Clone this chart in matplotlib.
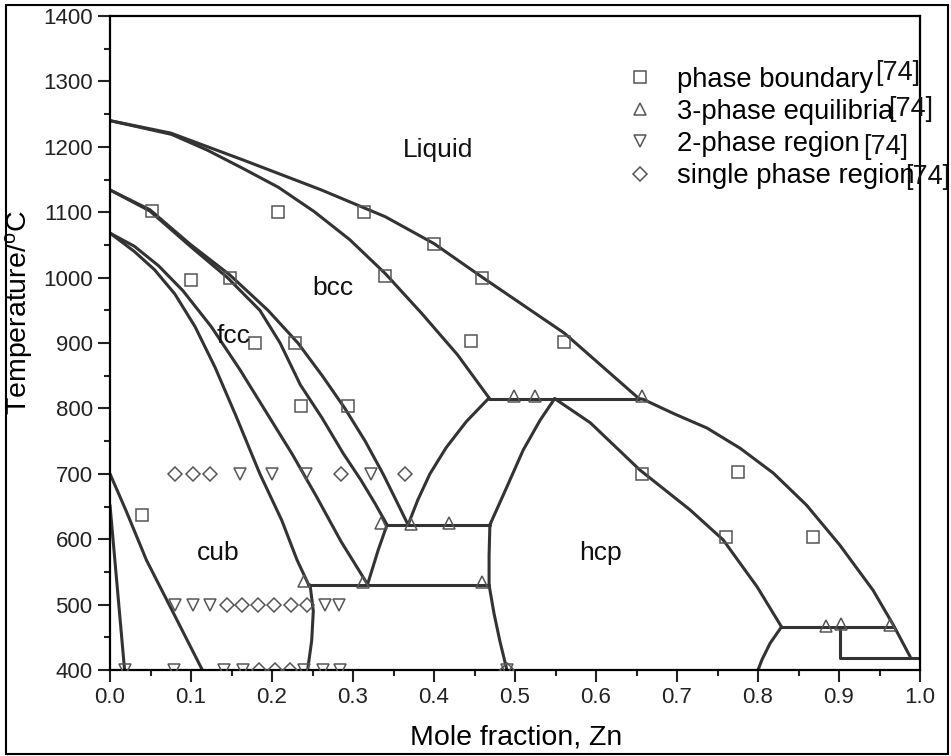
import numpy as np
import matplotlib
matplotlib.use('Agg')
import matplotlib.pyplot as plt
from matplotlib.patches import Rectangle

plt.rcParams['font.family'] = ['Liberation Sans', 'DejaVu Sans']
plt.rcParams['mathtext.fontset'] = 'custom'
plt.rcParams['mathtext.rm'] = 'Liberation Sans'
plt.rcParams['mathtext.it'] = 'Liberation Sans'

# calculated phase boundaries: mole fraction Zn / temperature (C)
liq_x = [0, 0.075, 0.164, 0.261, 0.340, 0.400, 0.459, 0.561, 0.653, 0.658,
         0.696, 0.737, 0.778, 0.819, 0.860, 0.901, 0.942, 0.967, 0.988]
liq_t = [1240, 1221, 1180, 1134, 1093, 1052, 1001, 915, 815, 814,
         792, 770, 739, 701, 652, 591, 522, 469, 420]

sol_x = [0, 0.076, 0.120, 0.164, 0.208, 0.252, 0.296, 0.340, 0.385, 0.429, 0.468]
sol_t = [1240, 1219, 1195, 1167, 1138, 1101, 1058, 1006, 945, 882, 816]

c2_x = [0, 0.049, 0.099, 0.148, 0.195, 0.232, 0.262, 0.290, 0.315, 0.337, 0.353, 0.368]
c2_t = [1134, 1104, 1051, 1004, 950, 900, 850, 800, 750, 700, 660, 622]

c1_x = [0, 0.049, 0.099, 0.145, 0.185, 0.210, 0.235, 0.262, 0.288, 0.310, 0.327, 0.342]
c1_t = [1134, 1102, 1048, 1000, 950, 900, 836, 785, 731, 690, 655, 622]

b2_x = [0, 0.030, 0.060, 0.090, 0.125, 0.160, 0.195, 0.225, 0.255, 0.285, 0.318]
b2_t = [1068, 1048, 1018, 980, 925, 860, 790, 730, 665, 597, 531]

b1_x = [0, 0.030, 0.055, 0.080, 0.105, 0.130, 0.155, 0.185, 0.212, 0.231, 0.245]
b1_t = [1068, 1040, 1012, 975, 925, 862, 790, 700, 629, 568, 531]

v1_x = [0.318, 0.331, 0.342]
v1_t = [531, 583, 622]

v2_x = [0.368, 0.380, 0.395, 0.415, 0.440, 0.468]
v2_t = [622, 660, 700, 740, 780, 816]

hcpl_x = [0.469, 0.490, 0.510, 0.531, 0.549]
hcpl_t = [622, 680, 736, 782, 815]

hcpr_x = [0.549, 0.593, 0.654, 0.716, 0.757, 0.799, 0.829]
hcpr_t = [815, 778, 706, 645, 599, 527, 466]

hcpb_x = [0.469, 0.468, 0.468, 0.474, 0.481, 0.490]
hcpb_t = [622, 575, 530, 487, 446, 400]

low_x = [0.829, 0.815, 0.805, 0.800]
low_t = [466, 441, 416, 400]

cubr_x = [0.247, 0.251, 0.249, 0.244]
cubr_t = [530, 490, 445, 400]

alpha_x = [0, 0.020, 0.045, 0.080, 0.114]
alpha_t = [700, 643, 568, 483, 400]

alpha2_x = [0, 0.006, 0.018]
alpha2_t = [652, 568, 400]

eps_x = [0.901, 0.901, 1.0]
eps_t = [466, 419, 419]

# invariant lines
h815_x, h815_t = [0.468, 0.653], [815, 815]
h622_x, h622_t = [0.342, 0.469], [622, 622]
h530_x, h530_t = [0.245, 0.468], [530, 530]
h466_x, h466_t = [0.829, 0.967], [466, 466]

# experimental data [74]
pb_x = [0.052, 0.207, 0.314, 0.400, 0.100, 0.148, 0.340, 0.459, 0.179, 0.228,
        0.446, 0.560, 0.236, 0.294, 0.657, 0.775, 0.760, 0.868, 0.039]
pb_t = [1102, 1100, 1100, 1052, 996, 1000, 1002, 1000, 900, 900,
        903, 901, 803, 803, 700, 702, 604, 604, 637]

tp_x = [0.499, 0.525, 0.657, 0.335, 0.372, 0.418, 0.239, 0.312, 0.459, 0.884, 0.903, 0.963]
tp_t = [819, 819, 819, 625, 624, 625, 536, 535, 535, 468, 470, 469]

two_x = [0.160, 0.200, 0.242, 0.322,
         0.080, 0.103, 0.123, 0.266, 0.283,
         0.018, 0.079, 0.141, 0.164, 0.239, 0.263, 0.284, 0.490]
two_t = [700, 700, 700, 700,
         500, 500, 500, 500, 500,
         400, 400, 400, 400, 400, 400, 400, 400]

one_x = [0.080, 0.102, 0.124, 0.285, 0.364,
         0.144, 0.163, 0.183, 0.202, 0.223, 0.243,
         0.184, 0.204, 0.222, 0.490]
one_t = [700, 700, 700, 700, 700,
         500, 500, 500, 500, 500, 500,
         400, 400, 400, 400]

regions = ['Liquid', 'bcc', 'fcc', 'cub', 'hcp']
region_x = [0.405, 0.275, 0.153, 0.133, 0.606]
region_t = [1195, 984, 911, 579, 579]

LINE = '#333333'
MK = '#555555'

fig = plt.figure(figsize=(9.51, 7.56), dpi=100)
ax = fig.add_axes([110/951, 86/756, 810/951, 654/756])

curves = [(liq_x, liq_t), (sol_x, sol_t), (c1_x, c1_t), (c2_x, c2_t),
          (b1_x, b1_t), (b2_x, b2_t), (v1_x, v1_t), (v2_x, v2_t),
          (hcpl_x, hcpl_t), (hcpr_x, hcpr_t), (hcpb_x, hcpb_t), (low_x, low_t),
          (cubr_x, cubr_t), (alpha_x, alpha_t), (alpha2_x, alpha2_t), (eps_x, eps_t),
          (h815_x, h815_t), (h622_x, h622_t), (h530_x, h530_t), (h466_x, h466_t)]
for cx, ct in curves:
    ax.plot(cx, ct, color=LINE, lw=2.2, solid_joinstyle='round', solid_capstyle='round', zorder=2)

mk = dict(ls='none', mfc='none', mec=MK, mew=1.1, zorder=3)
ax.plot(pb_x, pb_t, marker='s', ms=8, label='phase boundary', **mk)
ax.plot(tp_x, tp_t, marker='^', ms=9, label='3-phase equilibria', **mk)
ax.plot(two_x, two_t, marker='v', ms=9, label='2-phase region', **mk)
ax.plot(one_x, one_t, marker='D', ms=7.5, label='single phase region', **mk)

for name, rx, rt in zip(regions, region_x, region_t):
    ax.text(rx, rt, name, fontsize=19, ha='center', va='center', color='#111111')

ax.set_xlim(0, 1.0)
ax.set_ylim(400, 1400)
ax.set_xticks(np.arange(0, 1.01, 0.1))
ax.set_xticks(np.arange(0.05, 1.0, 0.1), minor=True)
ax.set_yticks(np.arange(400, 1401, 100))
ax.set_yticks(np.arange(450, 1400, 100), minor=True)
ax.xaxis.set_major_formatter(matplotlib.ticker.FormatStrFormatter('%.1f'))
ax.tick_params(which='both', direction='out', width=1.5, labelsize=16, colors='#222222')
ax.tick_params(which='major', length=8.5, pad=4)
ax.tick_params(which='minor', length=4)
for s in ax.spines.values():
    s.set_linewidth(1.6)

ax.set_xlabel('Mole fraction, Zn', fontsize=20.5)
ax.set_ylabel('Temperature/$^{\\mathrm{o}}$C', fontsize=20.5)
ax.xaxis.set_label_coords(0.502, -0.083)
ax.yaxis.set_label_coords(-0.092, 0.547)

leg = ax.legend(loc='upper left', bbox_to_anchor=((626.3-110)/810, (670-66.6)/654),
                frameon=False, fontsize=19.7, handlelength=1.0, handletextpad=0.85,
                labelspacing=0.226, borderpad=0, borderaxespad=0)

# reference tags added after the legend labels
ref_px = [875, 888, 863, 905]
ref_py = [73.5, 108.5, 146.5, 177.5]
for px, py in zip(ref_px, ref_py):
    ax.text((px-110)/810, (670-py)/654, '[74]', transform=ax.transAxes,
            fontsize=19.5, ha='left', va='center', color='#111111')

fig.patches.append(Rectangle((6/951, 2/756), 942/951, 749/756, transform=fig.transFigure,
                             fill=False, lw=1.5, ec='black'))

fig.savefig('out.png', dpi=100)
